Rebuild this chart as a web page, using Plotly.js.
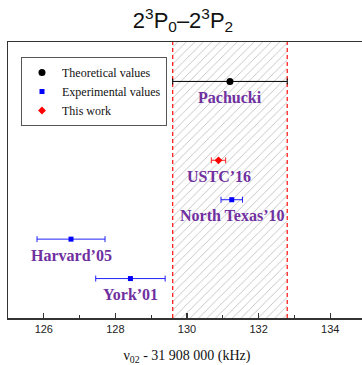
<!DOCTYPE html>
<html>
<head>
<meta charset="utf-8">
<script src="https://cdn.plot.ly/plotly-3.0.1.min.js"></script>
<style>
html,body{margin:0;padding:0;overflow:hidden;background:#fff;}
#chart{width:366px;height:365px;}
</style>
</head>
<body>
<div id="chart"></div>
<script>
// ---- data (kHz offsets from 31 908 000) ----
const labels   = ['Pachucki', 'USTC’16', 'North Texas’10', 'Harvard’05', 'York’01'];
const values   = [131.2, 130.88, 131.25, 126.76, 128.42];
const errors   = [1.6, 0.2, 0.3, 0.95, 0.97];
const rows     = [6, 4, 3, 2, 1];
const groups   = ['theory', 'this', 'exp', 'exp', 'exp'];
const xTickVals = [126, 128, 130, 132, 134];

function pick(g) {
  const idx = groups.map((v, i) => v === g ? i : -1).filter(i => i >= 0);
  return {
    x: idx.map(i => values[i]),
    y: idx.map(i => rows[i]),
    e: idx.map(i => errors[i])
  };
}

const yMin = 0, yMax = 7;
const th = pick('theory');
const lo = th.x[0] - th.e[0];
const hi = th.x[0] + th.e[0];

const purple = '#7030A0';
const serif = 'Liberation Serif, Times New Roman, serif';
const sans = 'Liberation Sans, Arial, sans-serif';

const traces = [];
// hatched theory band
traces.push({
  type: 'scatter', mode: 'none',
  x: [lo, hi, hi, lo, lo], y: [yMin, yMin, yMax, yMax, yMin],
  fill: 'toself', fillcolor: 'rgba(255,255,255,0)',
  fillpattern: {shape: '/', fgcolor: '#bdbdbd', bgcolor: 'rgba(255,255,255,0)', size: 6, solidity: 0.14},
  showlegend: false, hoverinfo: 'skip'
});
// dashed band edges
[lo, hi].forEach(v => traces.push({
  type: 'scatter', mode: 'lines', x: [v, v], y: [yMin, yMax],
  line: {color: '#ff2020', width: 1.3, dash: '4px,3px'},
  showlegend: false, hoverinfo: 'skip'
}));

const ex = pick('exp');
const tw = pick('this');
traces.push({
  type: 'scatter', mode: 'markers', name: 'Theoretical values',
  x: th.x, y: th.y,
  error_x: {type: 'data', array: th.e, visible: true, color: '#000', thickness: 1, width: 3},
  marker: {color: '#000', size: 7, symbol: 'circle'}
});
traces.push({
  type: 'scatter', mode: 'markers', name: 'Experimental values',
  x: ex.x, y: ex.y,
  error_x: {type: 'data', array: ex.e, visible: true, color: '#2020ff', thickness: 1, width: 3},
  marker: {color: '#0000ff', size: 5, symbol: 'square'}
});
traces.push({
  type: 'scatter', mode: 'markers', name: 'This work',
  x: tw.x, y: tw.y,
  error_x: {type: 'data', array: tw.e, visible: true, color: '#ff2020', thickness: 1, width: 3},
  marker: {color: '#ff0000', size: 6, symbol: 'diamond'}
});

const annotations = labels.map((t, i) => ({
  x: values[i], y: rows[i], xref: 'x', yref: 'y',
  text: '<b>' + t + '</b>', showarrow: false, yshift: -16,
  font: {family: serif, size: 16, color: purple}
}));

const layout = {
  width: 366, height: 365,
  margin: {l: 8, r: 0, t: 42, b: 47},
  paper_bgcolor: '#fff', plot_bgcolor: '#fff',
  showlegend: true,
  title: {
    text: '2<sup>3</sup>P<sub>0</sub>–2<sup>3</sup>P<sub>2</sub>',
    font: {family: sans, size: 22, color: '#111'},
    x: 0.5, xref: 'container', xanchor: 'center',
    y: 0.945, yref: 'container', yanchor: 'middle'
  },
  xaxis: {
    range: [125, 135],
    tickvals: xTickVals, ticktext: xTickVals.map(String),
    ticks: 'inside', ticklen: 5, tickwidth: 1.2, tickcolor: '#333',
    minor: {tick0: 125, dtick: 1, ticks: 'inside', ticklen: 3, tickwidth: 1, tickcolor: '#333'},
    showline: true, linecolor: '#333', linewidth: 1.5, mirror: true,
    showgrid: false, zeroline: false,
    tickfont: {family: sans, size: 11, color: '#222'},
    title: {
      text: 'ν<sub>02</sub> - 31 908 000 (kHz)',
      font: {family: serif, size: 14, color: '#111'},
      standoff: 16
    }
  },
  yaxis: {
    range: [yMin, yMax],
    showline: true, linecolor: '#333', linewidth: 1.5, mirror: true,
    showticklabels: false, ticks: '', showgrid: false, zeroline: false
  },
  legend: {
    x: 0.0363, y: 0.9457, xanchor: 'left', yanchor: 'top',
    bordercolor: '#555', borderwidth: 1, bgcolor: '#fff',
    font: {family: serif, size: 12, color: '#111'},
    tracegroupgap: 0, itemwidth: 30
  },
  annotations: annotations
};

Plotly.newPlot('chart', traces, layout, {staticPlot: true, displayModeBar: false});
</script>
</body>
</html>
